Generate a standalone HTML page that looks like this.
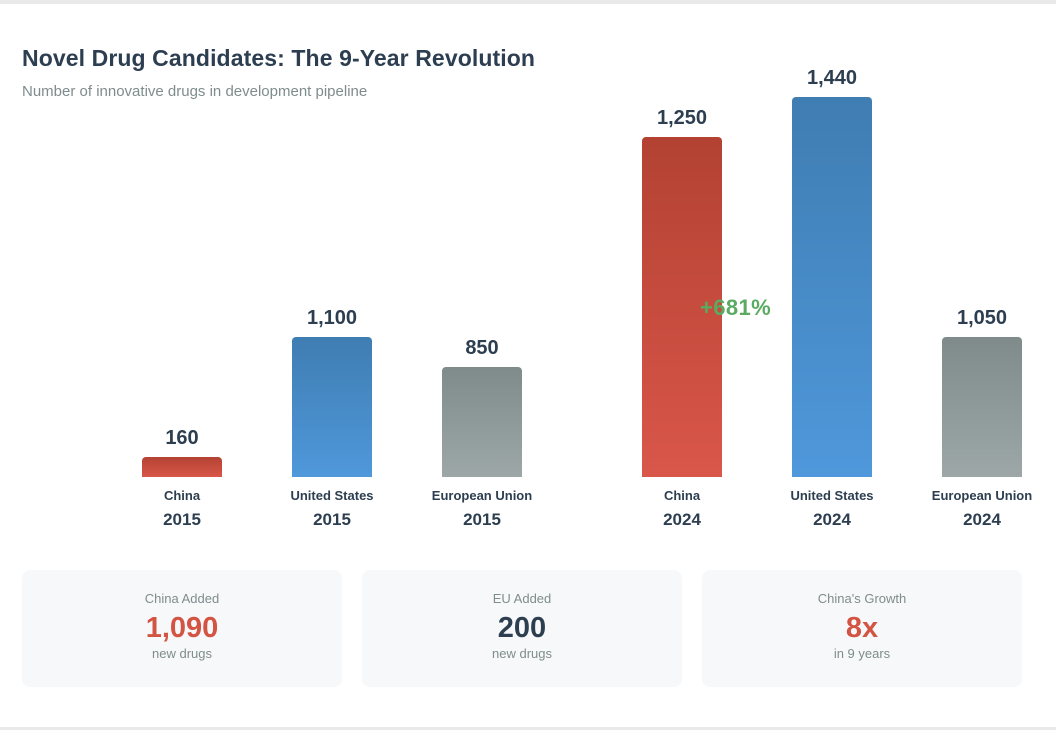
<!DOCTYPE html>
<html><head><meta charset="utf-8"><style>
body{margin:0;width:1056px;height:730px;background:#fff;font-family:"Liberation Sans",sans-serif;position:relative;overflow:hidden}
.band{position:absolute;left:0;width:1056px;background:#e9e9e9}
.t{position:absolute;white-space:nowrap}
.bar{position:absolute;width:80px;border-radius:4px 4px 0 0}
.card{position:absolute;top:570px;width:320px;height:117px;background:#f7f8fa;border-radius:8px;text-align:center}
.card .l{margin-top:21px;font-size:13px;color:#7f8c8d}
.card .v{font-size:29px;font-weight:bold;line-height:34px;margin-top:5px}
.card .s{font-size:13px;color:#7f8c8d;margin-top:1px}
</style></head><body>
<div class="band" style="top:0;height:4px"></div>
<div class="band" style="top:727px;height:3px"></div>
<div class="t" style="left:22px;top:45px;font-size:23px;font-weight:bold;color:#2c3e50;letter-spacing:0.1px">Novel Drug Candidates: The 9-Year Revolution</div>
<div class="t" style="left:22px;top:83px;font-size:15px;color:#7f8c8d">Number of innovative drugs in development pipeline</div>
<div id="chart"></div>
<div class="t" style="left:700px;top:295px;font-size:22px;font-weight:bold;color:#5aab61;letter-spacing:0.4px">+681%</div>
<div class="card" style="left:22px"><div class="l">China Added</div><div class="v" style="color:#d35442">1,090</div><div class="s">new drugs</div></div>
<div class="card" style="left:362px"><div class="l">EU Added</div><div class="v" style="color:#2c3e50">200</div><div class="s">new drugs</div></div>
<div class="card" style="left:702px"><div class="l">China's Growth</div><div class="v" style="color:#d35442">8x</div><div class="s">in 9 years</div></div>
<script>
const countries=["China","United States","European Union","China","United States","European Union"];
const years=["2015","2015","2015","2024","2024","2024"];
const values=[160,1100,850,1250,1440,1050];
const valueLabels=["160","1,100","850","1,250","1,440","1,050"];
// display scale (piecewise, as in the reference's visual proportions)
const scaleV=[0,160,850,1050,1100,1250,1440];
const scaleH=[0,20,110,140,140,340,380];
function yScale(v){for(let i=1;i<scaleV.length;i++){if(v<=scaleV[i]){const a=scaleV[i-1],b=scaleV[i];return scaleH[i-1]+(scaleH[i]-scaleH[i-1])*(v-a)/(b-a);}}return scaleH[scaleH.length-1]*v/scaleV[scaleV.length-1];}
function xPos(i){return 142+i*150+(i>=3?50:0);}
const grads={"China":"linear-gradient(#b34232,#d9564a)","United States":"linear-gradient(#3f7db2,#4f98db)","European Union":"linear-gradient(#7f8b8b,#9da7a8)"};
const base=477,c=document.getElementById('chart');
values.forEach((v,i)=>{
 const h=yScale(v),x=xPos(i);
 const b=document.createElement('div');b.className='bar';
 
 
 b.style.cssText=`left:${x}px;top:${base-h}px;height:${h}px;background:${grads[countries[i]]}`;c.appendChild(b);
 const vl=document.createElement('div');vl.className='t';
 
 
 vl.style.cssText=`left:${x-20}px;width:120px;text-align:center;top:${base-h-30}px;font-size:20px;font-weight:bold;color:#2c3e50`;vl.textContent=valueLabels[i];c.appendChild(vl);
 const cl=document.createElement('div');cl.className='t';
 
 
 cl.style.cssText=`left:${x-30}px;width:140px;text-align:center;top:488px;font-size:13px;font-weight:bold;color:#2c3e50`;cl.textContent=countries[i];c.appendChild(cl);
 const yl=document.createElement('div');yl.className='t';
 
 
 yl.style.cssText=`left:${x-20}px;width:120px;text-align:center;top:510px;font-size:17px;font-weight:bold;color:#2c3e50`;yl.textContent=years[i];c.appendChild(yl);
});
</script>
</body></html>
